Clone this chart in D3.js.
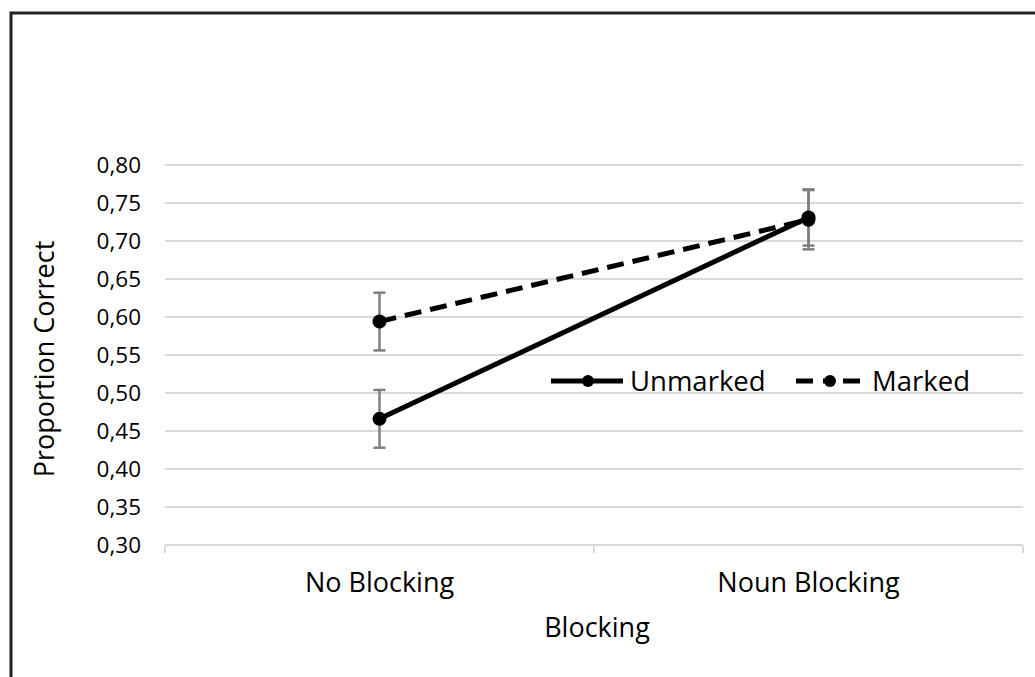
<!DOCTYPE html>
<html>
<head>
<meta charset="utf-8">
<script src="https://cdn.jsdelivr.net/npm/d3@7/dist/d3.min.js"></script>
<style>
  html, body { margin: 0; padding: 0; background: #fff; }
  svg { display: block; font-family: "Open Sans", sans-serif; }
</style>
</head>
<body>
<svg id="chart" width="1035" height="677"></svg>
<script>
const categories = ["No Blocking", "Noun Blocking"];
const unmarkedValues = [0.466, 0.731];
const unmarkedErrors = [0.038, 0.037];
const markedValues = [0.594, 0.728];
const markedErrors = [0.038, 0.039];
const yTicks = [0.30, 0.35, 0.40, 0.45, 0.50, 0.55, 0.60, 0.65, 0.70, 0.75, 0.80];
const seriesNames = ["Unmarked", "Marked"];
const xTitle = "Blocking";
const yTitle = "Proportion Correct";

(function () {
const svg = d3.select("#chart");

// outer frame (extends beyond the viewport at right & bottom)
svg.append("rect")
  .attr("x", 11).attr("y", 13)
  .attr("width", 1040).attr("height", 700)
  .attr("fill", "none").attr("stroke", "#222").attr("stroke-width", 3);

const pL = 165, pR = 1023, pT = 165, pB = 545;

const y = d3.scaleLinear().domain([0.30, 0.80]).range([pB, pT]);
const x = d3.scaleBand().domain(categories).range([pL, pR]).padding(0);
const cx = c => x(c) + x.bandwidth() / 2;

const fmt = v => d3.format(".2f")(v).replace(".", ",");

// gridlines
svg.append("g").selectAll("line")
  .data(yTicks.filter(t => t > 0.30))
  .join("line")
  .attr("x1", pL).attr("x2", pR)
  .attr("y1", d => y(d)).attr("y2", d => y(d))
  .attr("stroke", "#d9d9d9").attr("stroke-width", 2);

// y axis labels
const yAxis = d3.axisLeft(y).tickValues(yTicks).tickFormat(fmt).tickSize(0).tickPadding(24);
const gy = svg.append("g").attr("transform", `translate(${pL},0)`).call(yAxis);
gy.select(".domain").remove();
gy.selectAll("text").attr("font-size", 22.5).attr("fill", "#000")
  .attr("font-family", "'Open Sans', sans-serif");

// x axis
const xAxisLine = svg.append("g");
xAxisLine.append("line")
  .attr("x1", pL).attr("x2", pR).attr("y1", pB).attr("y2", pB)
  .attr("stroke", "#d9d9d9").attr("stroke-width", 2);
const tickPos = categories.map(c => x(c)).concat([x(categories[categories.length - 1]) + x.bandwidth()]);
xAxisLine.selectAll("line.tk").data(tickPos).join("line").attr("class", "tk")
  .attr("x1", d => d).attr("x2", d => d).attr("y1", pB).attr("y2", pB + 8)
  .attr("stroke", "#d9d9d9").attr("stroke-width", 2);
svg.append("g").selectAll("text").data(categories).join("text")
  .attr("x", d => cx(d)).attr("y", 592)
  .attr("text-anchor", "middle").attr("font-size", 27).attr("fill", "#000")
  .text(d => d);

// axis titles
svg.append("text").attr("x", (pL + pR) / 2 + 3).attr("y", 637)
  .attr("text-anchor", "middle").attr("font-size", 27).attr("fill", "#000").text(xTitle);
svg.append("text")
  .attr("transform", `translate(54,${359}) rotate(-90)`)
  .attr("text-anchor", "middle").attr("font-size", 27).attr("fill", "#000").text(yTitle);

const series = [
  { name: seriesNames[0], values: unmarkedValues, errors: unmarkedErrors, dash: null },
  { name: seriesNames[1], values: markedValues, errors: markedErrors, dash: "17,9" }
];

// error bars
series.forEach(s => {
  const g = svg.append("g");
  categories.forEach((c, i) => {
    const v = s.values[i], e = s.errors[i];
    g.append("line").attr("x1", cx(c)).attr("x2", cx(c))
      .attr("y1", y(v - e)).attr("y2", y(v + e))
      .attr("stroke", "#7f7f7f").attr("stroke-width", 2.5);
    [v - e, v + e].forEach(b => {
      g.append("line").attr("x1", cx(c) - 6).attr("x2", cx(c) + 6)
        .attr("y1", y(b)).attr("y2", y(b))
        .attr("stroke", "#7f7f7f").attr("stroke-width", 2.5);
    });
  });
});

// lines and markers
const line = d3.line().x(d => cx(d.c)).y(d => y(d.v));
series.forEach(s => {
  const pts = categories.map((c, i) => ({ c, v: s.values[i] }));
  svg.append("path").datum(pts).attr("d", line)
    .attr("fill", "none").attr("stroke", "#000").attr("stroke-width", 5)
    .attr("stroke-dasharray", s.dash);
  svg.append("g").selectAll("circle").data(pts).join("circle")
    .attr("cx", d => cx(d.c)).attr("cy", d => y(d.v)).attr("r", 7).attr("fill", "#000");
});

// legend
const legend = [
  { x0: 551, x1: 623, mx: 588, tx: 630, dash: null, name: seriesNames[0] },
  { x0: 796, x1: 860, mx: 830, tx: 872, dash: "17,10,10,10,20", name: seriesNames[1] }
];
const ly = 381;
legend.forEach(l => {
  svg.append("line").attr("x1", l.x0).attr("x2", l.x1).attr("y1", ly).attr("y2", ly)
    .attr("stroke", "#000").attr("stroke-width", 5).attr("stroke-dasharray", l.dash);
  svg.append("circle").attr("cx", l.mx).attr("cy", ly).attr("r", 6).attr("fill", "#000");
  svg.append("text").attr("x", l.tx).attr("y", ly + 10).attr("font-size", 27.5).attr("fill", "#000").text(l.name);
});
})();
</script>
</body>
</html>
